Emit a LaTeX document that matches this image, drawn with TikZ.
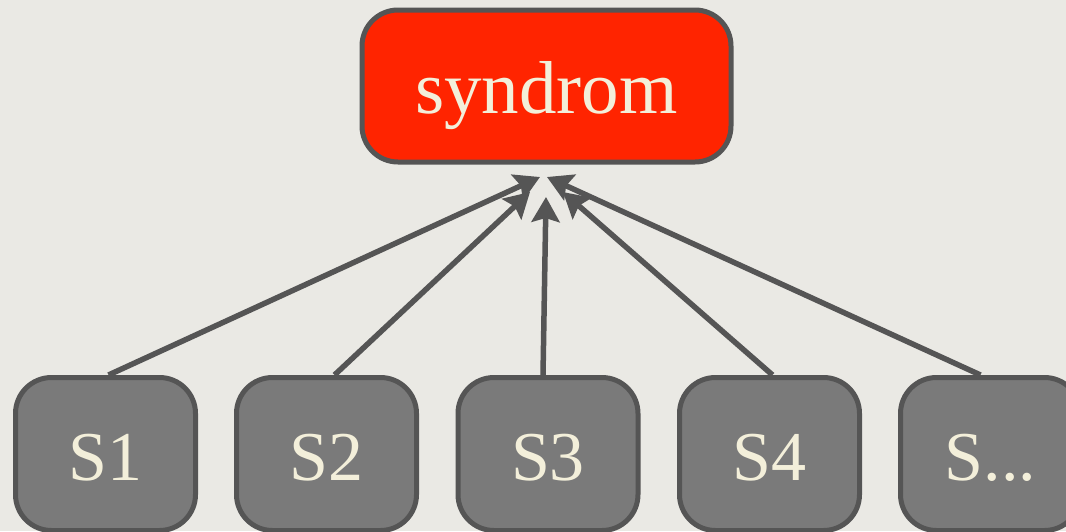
\documentclass[tikz,border=0pt]{standalone}
\usepackage{fontspec}
\setmainfont{Liberation Serif}
\usetikzlibrary{arrows.meta}
\definecolor{bgc}{RGB}{234,233,228}
\definecolor{edgec}{RGB}{85,85,85}
\definecolor{redc}{RGB}{255,36,0}
\definecolor{grayc}{RGB}{122,122,122}
\definecolor{txtc}{RGB}{243,239,218}
\tikzset{
  box/.style={draw=edgec, line width=5pt, rounded corners=36pt, inner sep=0pt,
    text=txtc, font=\fontsize{70}{80}\selectfont, text depth=0pt},
  topbox/.style={box, fill=redc, minimum width=369pt, minimum height=152pt,
    font=\fontsize{75}{85}\selectfont, text height=54pt},
  srcbox/.style={box, fill=grayc, minimum width=180pt, minimum height=153pt,
    text height=52pt},
  conn/.style={draw=edgec, line width=5.5pt, -{Stealth[length=25pt,width=28pt,inset=4pt]}}
}
\begin{document}
\begin{tikzpicture}[x=1pt,y=-1pt]
\useasboundingbox (0,0) rectangle (1066,531);
\clip (0,0) rectangle (1066,531);
\fill[bgc] (0,0) rectangle (1066,531);
\node[topbox] (syn) at (546.5,86) {syndrom};
\node[srcbox] (s1) at (105.5,454) {S1};
\node[srcbox] (s2) at (326.5,454) {S2};
\node[srcbox] (s3) at (548,454) {S3};
\node[srcbox] (s4) at (769.5,454) {S4};
\node[srcbox] (s5) at (990.5,454) {S...};
\coordinate (t1) at (540,177);
\coordinate (t2) at (530,192);
\coordinate (t3) at (546,197);
\coordinate (t4) at (563,192);
\coordinate (t5) at (547,177);
\draw[conn] ([xshift=3pt]s1.north) -- (t1);
\draw[conn] ([xshift=8pt]s2.north) -- (t2);
\draw[conn] ([xshift=-5pt]s3.north) -- (t3);
\draw[conn] ([xshift=3pt]s4.north) -- (t4);
\draw[conn] ([xshift=-10pt]s5.north) -- (t5);
\end{tikzpicture}
\end{document}
